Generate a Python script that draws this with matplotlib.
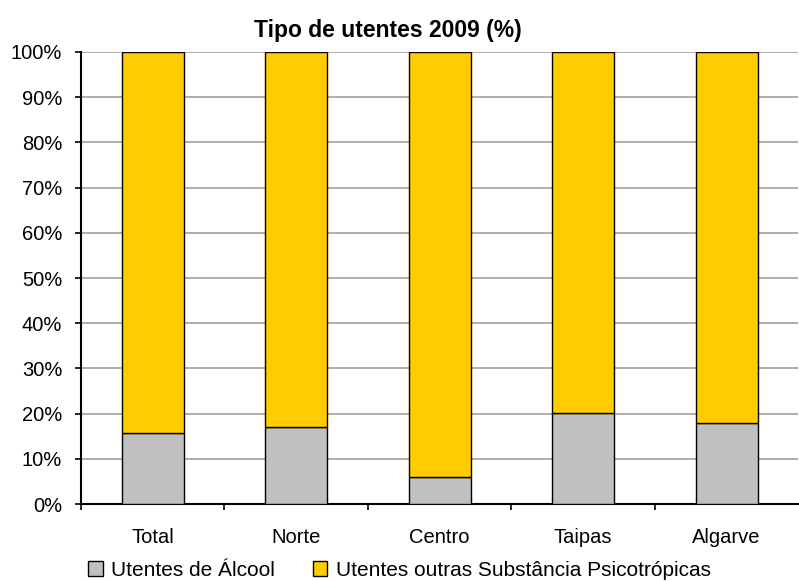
import matplotlib.pyplot as plt
from matplotlib.ticker import FixedLocator, PercentFormatter

plt.rcParams['font.family'] = ['Liberation Sans', 'DejaVu Sans']

categories = ["Total", "Norte", "Centro", "Taipas", "Algarve"]
alcool = [15.8, 17.1, 6.0, 20.2, 18.0]
outras = [100 - v for v in alcool]

fig = plt.figure(figsize=(7.99, 5.81), dpi=100)
ax = fig.add_axes([0.1013, 0.1325, 0.898, 0.778])

x = range(len(categories))
w = 0.43
ax.bar(x, alcool, width=w, color="#C0C0C0", edgecolor="black", linewidth=1,
       label="Utentes de Álcool", zorder=3)
ax.bar(x, outras, width=w, bottom=alcool, color="#FFCC00", edgecolor="black",
       linewidth=1, label="Utentes outras Substância Psicotrópicas", zorder=3)

ax.set_xlim(-0.5, 4.5)
ax.set_ylim(0, 100)
ax.set_yticks(range(0, 101, 10))
ax.yaxis.set_major_formatter(PercentFormatter(decimals=0))
ax.set_xticks(list(x))
ax.set_xticklabels(categories)
ax.xaxis.set_minor_locator(FixedLocator([-0.5, 0.5, 1.5, 2.5, 3.5]))
ax.tick_params(axis="x", which="major", length=0, pad=17, labelsize=14.5)
ax.tick_params(axis="x", which="minor", length=4.5, width=1.2, direction="out")
ax.tick_params(axis="y", length=4.5, width=1.2, labelsize=14.5, pad=9)

ax.grid(axis="y", color="#A0A0A0", linewidth=1.2, zorder=0)
for s in ["top", "right"]:
    ax.spines[s].set_visible(False)
for s in ["left", "bottom"]:
    ax.spines[s].set_linewidth(1.5)

# title sits left of the axes centre in the original
fig.text(0.485, 0.936, "Tipo de utentes 2009 (%)", fontsize=16.5,
         fontweight="bold", ha="center", va="baseline")

fig.legend(loc="lower center", bbox_to_anchor=(0.5, -0.03), ncol=2,
           frameon=False, fontsize=15, handlelength=0.7, handleheight=0.7,
           handletextpad=0.4, columnspacing=1.8)

fig.savefig("out.png", dpi=100)
